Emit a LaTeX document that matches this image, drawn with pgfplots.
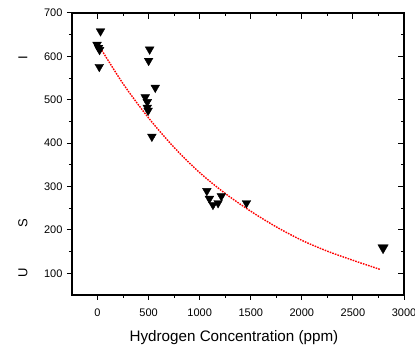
\documentclass[border=0pt]{standalone}
\usepackage{fontspec}
\setmainfont{Liberation Sans}
\usepackage{pgfplots}
\pgfplotsset{compat=1.18}
\usetikzlibrary{calc}
\begin{document}
\begin{tikzpicture}
\pgfplotsset{
 common/.style={scale only axis, width=332pt, height=282pt,
  xmin=-250, xmax=3000, ymin=50, ymax=700,
  xtick={0,500,...,3000}, ytick={100,200,...,700},
  minor x tick num=1, minor y tick num=1,
  axis line style={line width=1.2pt},
  major tick style={line width=1pt,black},
  minor tick style={line width=1pt,black}}
}
\begin{axis}[common, xtick pos=left, ytick pos=left, tick align=outside,
  major tick length=5pt, minor tick length=3pt,
  ticklabel style={font=\fontsize{11}{13}\selectfont},
  xticklabel style={yshift=-5pt},
  yticklabel style={xshift=-1pt},
  /pgf/number format/assume math mode=true,
  /pgf/number format/1000 sep={},
  xlabel={Hydrogen Concentration (ppm)},
  xlabel style={font=\fontsize{15.2}{18}\selectfont, yshift=-7pt, xshift=-4pt},
  clip=false]
\addplot[red, line width=1.4pt, dash pattern=on 1.6pt off 1.1pt, smooth] coordinates {
(0,630) (250,537) (500,458) (750,390) (1000,332) (1250,284) (1500,243) (1750,207)
(2000,176) (2250,151) (2500,130) (2765,109)};
\addplot[only marks, mark=triangle*, mark size=5pt, mark options={rotate=180, fill=black, draw=black}] coordinates {
(29,658) (-5,627) (10,620) (20,615) (17,576)
(510,616) (500,590) (565,528) (467,506) (487,495) (487,482) (495,475) (532,415)
(1070,290) (1095,272) (1130,258) (1180,262) (1212,278) (1458,262)};
\addplot[only marks, mark=triangle*, mark size=6pt, mark options={rotate=180, fill=black, draw=black}] coordinates {
(2795,159)};
\node[rotate=90, font=\fontsize{13}{15}\selectfont] at (axis cs:-730,100) {U};
\node[rotate=90, font=\fontsize{13}{15}\selectfont] at (axis cs:-730,215) {S};
\node[rotate=90, font=\fontsize{13}{15}\selectfont] at (axis cs:-730,598) {I};
\coordinate (sw) at (rel axis cs:0,0);
\coordinate (ne) at (rel axis cs:1,1);
\end{axis}
\begin{axis}[common, xtick pos=right, ytick pos=right, tick align=inside,
  major tick length=6pt, minor tick length=3.5pt,
  xticklabels={}, yticklabels={}]
\end{axis}
\pgfresetboundingbox
\path[use as bounding box] ($(sw)+(-72pt,-59pt)$) rectangle ($(ne)+(11pt,13pt)$);
\end{tikzpicture}
\end{document}
